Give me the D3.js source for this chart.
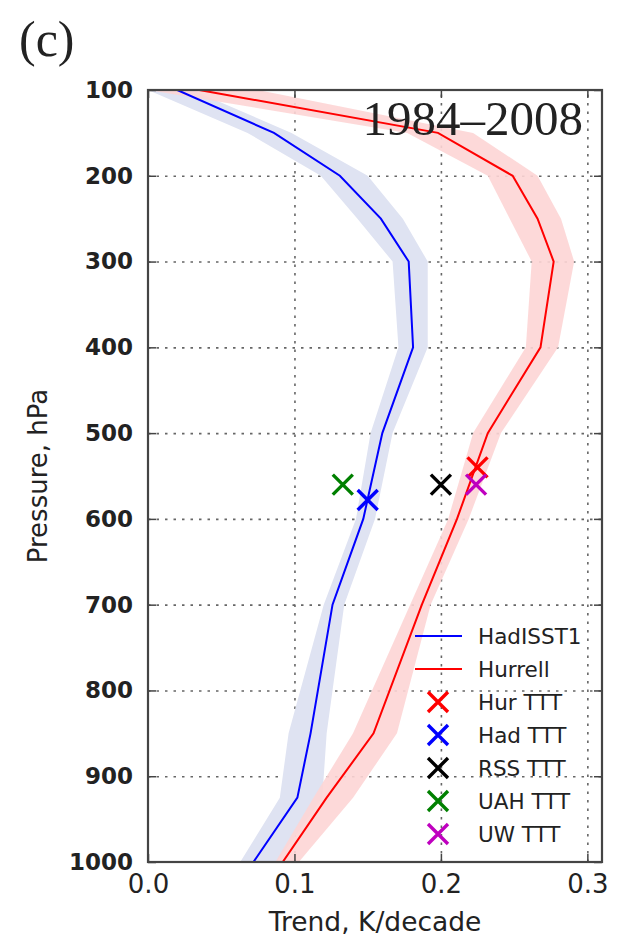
<!DOCTYPE html>
<html>
<head>
<meta charset="utf-8">
<script src="https://cdn.jsdelivr.net/npm/d3@7"></script>
<style>
  body { margin: 0; background: #fff; }
  svg text { font-family: "DejaVu Sans", sans-serif; }
  svg text.serif { font-family: "Liberation Serif", serif; }
</style>
</head>
<body>
<script>
// pressure levels (hPa)
const pressure = [100, 150, 200, 250, 300, 400, 500, 600, 700, 850, 925, 1000];

// HadISST1 trend profile and its shaded range
const hadisst = [0.020, 0.086, 0.131, 0.159, 0.178, 0.181, 0.160, 0.147, 0.126, 0.111, 0.102, 0.072];
const hadLow  = [0.000, 0.068, 0.118, 0.143, 0.167, 0.171, 0.152, 0.142, 0.120, 0.096, 0.090, 0.063];
const hadHigh = [0.030, 0.098, 0.150, 0.174, 0.191, 0.191, 0.167, 0.155, 0.134, 0.122, 0.119, 0.088];

// Hurrell trend profile and its shaded range
const hurrell = [0.035, 0.198, 0.249, 0.266, 0.277, 0.268, 0.232, 0.211, 0.187, 0.154, 0.122, 0.092];
const hurLow  = [0.000, 0.177, 0.232, 0.247, 0.262, 0.258, 0.222, 0.205, 0.179, 0.140, 0.113, 0.087];
const hurHigh = [0.075, 0.222, 0.266, 0.282, 0.291, 0.280, 0.241, 0.219, 0.193, 0.170, 0.140, 0.103];

// TTT estimates
const tttNames  = ['Hur TTT', 'Had TTT', 'RSS TTT', 'UAH TTT', 'UW TTT'];
const tttTrend  = [0.225, 0.150, 0.200, 0.133, 0.224];
const tttLevel  = [540, 578, 560, 560, 560];
const tttColors = ['#ff0000', '#0000ff', '#000000', '#008000', '#bf00bf'];

const xTicks = [0.0, 0.1, 0.2, 0.3];
const yTicks = [100, 200, 300, 400, 500, 600, 700, 800, 900, 1000];

const W = 619, H = 937;
const margin = {top: 90, right: 17, bottom: 75, left: 148};
const pLeft = margin.left, pRight = W - margin.right;
const pTop = margin.top, pBottom = H - margin.bottom;

const xScale = d3.scaleLinear().domain([0, 0.31]).range([pLeft, pRight]);
const yScale = d3.scaleLinear().domain([100, 1000]).range([pTop, pBottom]);

const svg = d3.select('body')
  .append('svg')
  .attr('width', W)
  .attr('height', H);

// clip everything to the plot area
svg.append('clipPath').attr('id', 'clip')
  .append('rect')
  .attr('x', pLeft).attr('y', pTop)
  .attr('width', pRight - pLeft).attr('height', pBottom - pTop);

// gridlines
const grid = svg.append('g').attr('class', 'grid');
grid.append('g')
  .attr('transform', `translate(0,${pBottom})`)
  .call(d3.axisBottom(xScale).tickValues(xTicks.slice(1)).tickSize(-(pBottom - pTop)).tickFormat(''));
grid.append('g')
  .attr('transform', `translate(${pLeft},0)`)
  .call(d3.axisLeft(yScale).tickValues(yTicks.slice(1, -1)).tickSize(-(pRight - pLeft)).tickFormat(''));
grid.selectAll('.domain').remove();
grid.selectAll('line')
  .attr('stroke', '#666')
  .attr('stroke-width', 1.6)
  .attr('stroke-dasharray', '2.5,6');

const plot = svg.append('g').attr('clip-path', 'url(#clip)');

// shaded ranges
const band = d3.area()
  .x0(d => xScale(d.lo))
  .x1(d => xScale(d.hi))
  .y(d => yScale(d.p));

plot.append('path')
  .datum(pressure.map((p, i) => ({p: p, lo: hadLow[i], hi: hadHigh[i]})))
  .attr('d', band)
  .attr('fill', '#dfe3f2');

plot.append('path')
  .datum(pressure.map((p, i) => ({p: p, lo: hurLow[i], hi: hurHigh[i]})))
  .attr('d', band)
  .attr('fill', '#fdd5d5')
  .attr('fill-opacity', 0.9);

// profile lines
const line = d3.line()
  .x(d => xScale(d.v))
  .y(d => yScale(d.p));

plot.append('path')
  .datum(pressure.map((p, i) => ({p: p, v: hadisst[i]})))
  .attr('d', line)
  .attr('fill', 'none')
  .attr('stroke', '#0000ff')
  .attr('stroke-width', 2);

plot.append('path')
  .datum(pressure.map((p, i) => ({p: p, v: hurrell[i]})))
  .attr('d', line)
  .attr('fill', 'none')
  .attr('stroke', '#ff0000')
  .attr('stroke-width', 2);

// x marker path centred on (cx, cy)
function xMark(cx, cy, r) {
  return `M${cx - r},${cy - r}L${cx + r},${cy + r}M${cx - r},${cy + r}L${cx + r},${cy - r}`;
}

plot.selectAll('.ttt')
  .data(tttNames.map((n, i) => ({n: n, v: tttTrend[i], p: tttLevel[i], c: tttColors[i]})))
  .join('path')
  .attr('class', 'ttt')
  .attr('d', d => xMark(xScale(d.v), yScale(d.p), 10))
  .attr('stroke', d => d.c)
  .attr('stroke-width', 3.4)
  .attr('fill', 'none');

// axes with inward ticks
const tickStyle = g => {
  g.selectAll('.domain').remove();
  g.selectAll('line').attr('stroke', '#444').attr('stroke-width', 1.5);
};

const xAxis = svg.append('g')
  .attr('transform', `translate(0,${pBottom})`)
  .call(d3.axisBottom(xScale).tickValues(xTicks).tickSize(-8).tickPadding(13).tickFormat(d3.format('.1f')))
  .call(tickStyle);
xAxis.selectAll('text')
  .attr('fill', '#222')
  .style('font-size', '26px');

const yAxis = svg.append('g')
  .attr('transform', `translate(${pLeft},0)`)
  .call(d3.axisLeft(yScale).tickValues(yTicks).tickSize(-8).tickPadding(15).tickFormat(d3.format('d')))
  .call(tickStyle);
yAxis.selectAll('text')
  .attr('fill', '#222')
  .style('font-size', '23px')
  .style('font-weight', 'bold');

svg.append('g')
  .attr('transform', `translate(0,${pTop})`)
  .call(d3.axisTop(xScale).tickValues(xTicks).tickSize(-8).tickFormat(''))
  .call(tickStyle);

svg.append('g')
  .attr('transform', `translate(${pRight},0)`)
  .call(d3.axisRight(yScale).tickValues(yTicks).tickSize(-8).tickFormat(''))
  .call(tickStyle);

// frame
svg.append('rect')
  .attr('x', pLeft).attr('y', pTop)
  .attr('width', pRight - pLeft).attr('height', pBottom - pTop)
  .attr('fill', 'none')
  .attr('stroke', '#444')
  .attr('stroke-width', 2.2);

// axis titles
svg.append('text')
  .attr('x', (pLeft + pRight) / 2)
  .attr('y', 931)
  .attr('text-anchor', 'middle')
  .attr('fill', '#222')
  .style('font-size', '26.5px')
  .text('Trend, K/decade');

svg.append('text')
  .attr('transform', `translate(47,${(pTop + pBottom) / 2}) rotate(-90)`)
  .attr('text-anchor', 'middle')
  .attr('fill', '#222')
  .style('font-size', '26px')
  .text('Pressure, hPa');

// panel label and period
svg.append('text')
  .attr('class', 'serif')
  .attr('x', 19)
  .attr('y', 56)
  .style('font-size', '50px')
  .attr('fill', '#222')
  .text('(c)');

svg.append('text')
  .attr('class', 'serif')
  .attr('x', 583)
  .attr('y', 135)
  .attr('text-anchor', 'end')
  .style('font-size', '49px')
  .attr('fill', '#222')
  .text('1984\u20132008');

// legend
const legend = svg.append('g').attr('transform', 'translate(415,636)');
const rowH = 33;
const legendLines = [['HadISST1', '#0000ff'], ['Hurrell', '#ff0000']];

legendLines.forEach((d, i) => {
  legend.append('line')
    .attr('x1', 0).attr('x2', 47)
    .attr('y1', i * rowH).attr('y2', i * rowH)
    .attr('stroke', d[1])
    .attr('stroke-width', 2);
  legend.append('text')
    .attr('x', 63).attr('y', i * rowH + 8)
    .attr('fill', '#222')
    .style('font-size', '21.5px')
    .text(d[0]);
});

tttNames.forEach((n, i) => {
  const y = (i + 2) * rowH;
  legend.append('path')
    .attr('d', xMark(23, y, 10))
    .attr('stroke', tttColors[i])
    .attr('stroke-width', 3.4)
    .attr('fill', 'none');
  legend.append('text')
    .attr('x', 63).attr('y', y + 8)
    .attr('fill', '#222')
    .style('font-size', '21.5px')
    .text(n);
});
</script>
</body>
</html>
